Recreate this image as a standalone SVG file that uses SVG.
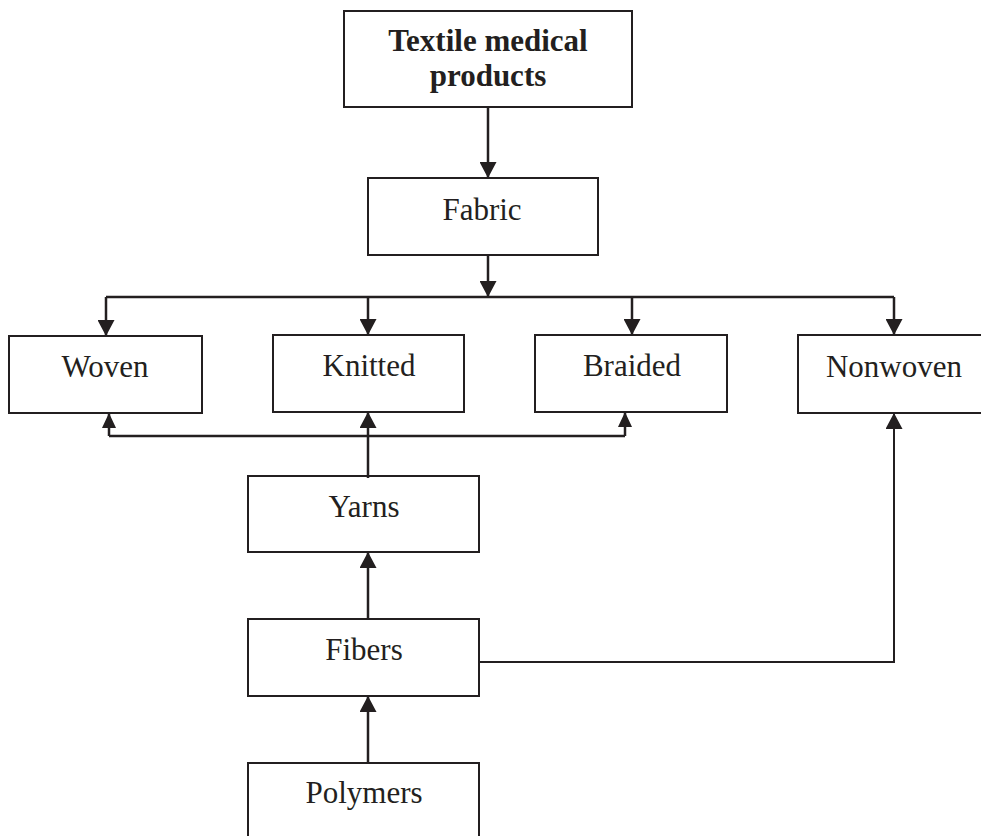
<svg xmlns="http://www.w3.org/2000/svg" width="981" height="836" viewBox="0 0 981 836">
<style>
.box{fill:#fff;stroke:#231f20;stroke-width:2}
.lbl{font-family:"Liberation Serif","Times New Roman",serif;font-size:31px;fill:#231f20;text-anchor:middle}
.bold{font-weight:bold}
.con{fill:none;stroke:#231f20;stroke-width:2.5}
.thin{stroke-width:2}
</style>
<defs>
<marker id="ah" markerUnits="userSpaceOnUse" markerWidth="17" markerHeight="17" refX="16" refY="8.5" orient="auto">
<path d="M0,0 L16,8.5 L0,17 z" fill="#231f20"/>
</marker>
<marker id="as" markerUnits="userSpaceOnUse" markerWidth="15" markerHeight="15" refX="15" refY="7" orient="auto">
<path d="M0,0 L15,7 L0,14 z" fill="#231f20"/>
</marker>
</defs>
<g id="textile"><rect class="box" x="344" y="11" width="288" height="96"/><text class="lbl bold" x="488" y="51">Textile medical</text><text class="lbl bold" x="488" y="86">products</text></g>
<g id="fabric"><rect class="box" x="368" y="178" width="230" height="77"/><text class="lbl" x="482" y="220">Fabric</text></g>
<g id="woven"><rect class="box" x="9" y="336" width="193" height="77"/><text class="lbl" x="105" y="377">Woven</text></g>
<g id="knitted"><rect class="box" x="273" y="335" width="191" height="77"/><text class="lbl" x="369" y="376">Knitted</text></g>
<g id="braided"><rect class="box" x="535" y="335" width="192" height="77"/><text class="lbl" x="632" y="376">Braided</text></g>
<g id="nonwoven"><rect class="box" x="798" y="335" width="200" height="78"/><text class="lbl" x="894" y="377">Nonwoven</text></g>
<g id="yarns"><rect class="box" x="248" y="476" width="231" height="76"/><text class="lbl" x="364" y="517">Yarns</text></g>
<g id="fibers"><rect class="box" x="248" y="619" width="231" height="77"/><text class="lbl" x="364" y="660">Fibers</text></g>
<g id="polymers"><rect class="box" x="248" y="763" width="231" height="90"/><text class="lbl" x="364" y="803">Polymers</text></g>
<g id="connectors">
<path class="con" d="M488,107 V178" marker-end="url(#ah)"/>
<path class="con" d="M488,255 V297" marker-end="url(#ah)"/>
<path class="con" d="M106,297 H894"/>
<path class="con" d="M106,297 V336" marker-end="url(#ah)"/>
<path class="con" d="M368,297 V335" marker-end="url(#ah)"/>
<path class="con" d="M632,297 V335" marker-end="url(#ah)"/>
<path class="con" d="M894,297 V335" marker-end="url(#ah)"/>
<path class="con" d="M368,478 V412" marker-end="url(#ah)"/>
<path class="con" d="M109,436 H625"/>
<path class="con" d="M109,436 V413" marker-end="url(#as)"/>
<path class="con" d="M625,436 V412" marker-end="url(#as)"/>
<path class="con" d="M368,620 V552" marker-end="url(#ah)"/>
<path class="con" d="M368,764 V696" marker-end="url(#ah)"/>
<path class="con thin" d="M479,662 H894 V413" marker-end="url(#ah)"/>
</g>
</svg>
